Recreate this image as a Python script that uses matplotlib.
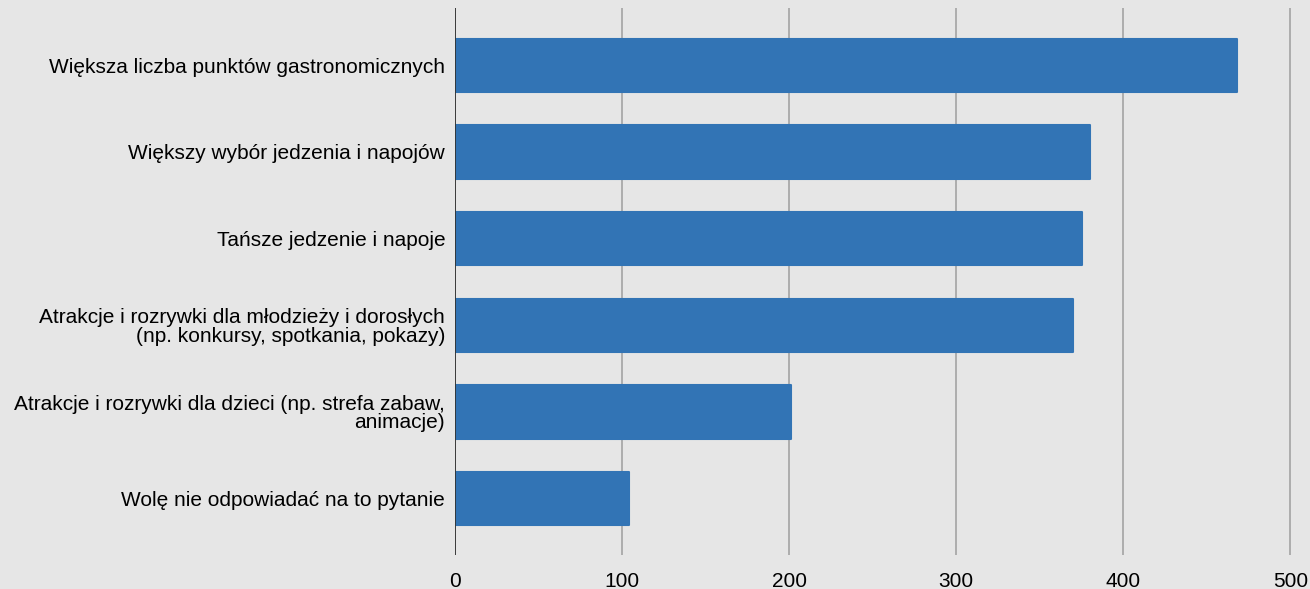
import matplotlib.pyplot as plt

categories = [
    'Większa liczba punktów gastronomicznych',
    'Większy wybór jedzenia i napojów',
    'Tańsze jedzenie i napoje',
    'Atrakcje i rozrywki dla młodzieży i dorosłych\n(np. konkursy, spotkania, pokazy)',
    'Atrakcje i rozrywki dla dzieci (np. strefa zabaw,\nanimacje)',
    'Wolę nie odpowiadać na to pytanie',
]
values = [468, 380, 375, 370, 201, 104]
xticks = [0, 100, 200, 300, 400, 500]

plt.rcParams['font.family'] = ['Liberation Sans', 'DejaVu Sans']

bg = '#e6e6e6'
bar_color = '#3274b5'

fig = plt.figure(figsize=(13.1, 5.89), dpi=100, facecolor=bg)
ax = fig.add_axes([0.3473, 0.0577, 0.6505, 0.9287], facecolor=bg)

ypos = list(range(len(categories)))
bars = ax.barh(ypos, values, height=0.615, color=bar_color, zorder=3)
for b in bars:
    b.set_edgecolor(bar_color)
    b.set_linewidth(1.5)
    b.set_joinstyle('round')

ax.set_xlim(0, 510)
ax.set_ylim(5.65, -0.66)
ax.set_yticks(ypos)
ax.set_yticklabels(categories, fontsize=15, linespacing=0.95)
ax.set_xticks(xticks)
ax.set_xticklabels([str(t) for t in xticks], fontsize=15)

ax.grid(axis='x', color='#a8a8a8', linewidth=1.3, zorder=0)
ax.axvline(0, color='#333333', linewidth=1.3, zorder=4)

for s in ax.spines.values():
    s.set_visible(False)
ax.tick_params(axis='y', length=0, pad=7)
ax.tick_params(axis='x', length=0, pad=12)

fig.savefig('out.png', dpi=100, facecolor=bg)
